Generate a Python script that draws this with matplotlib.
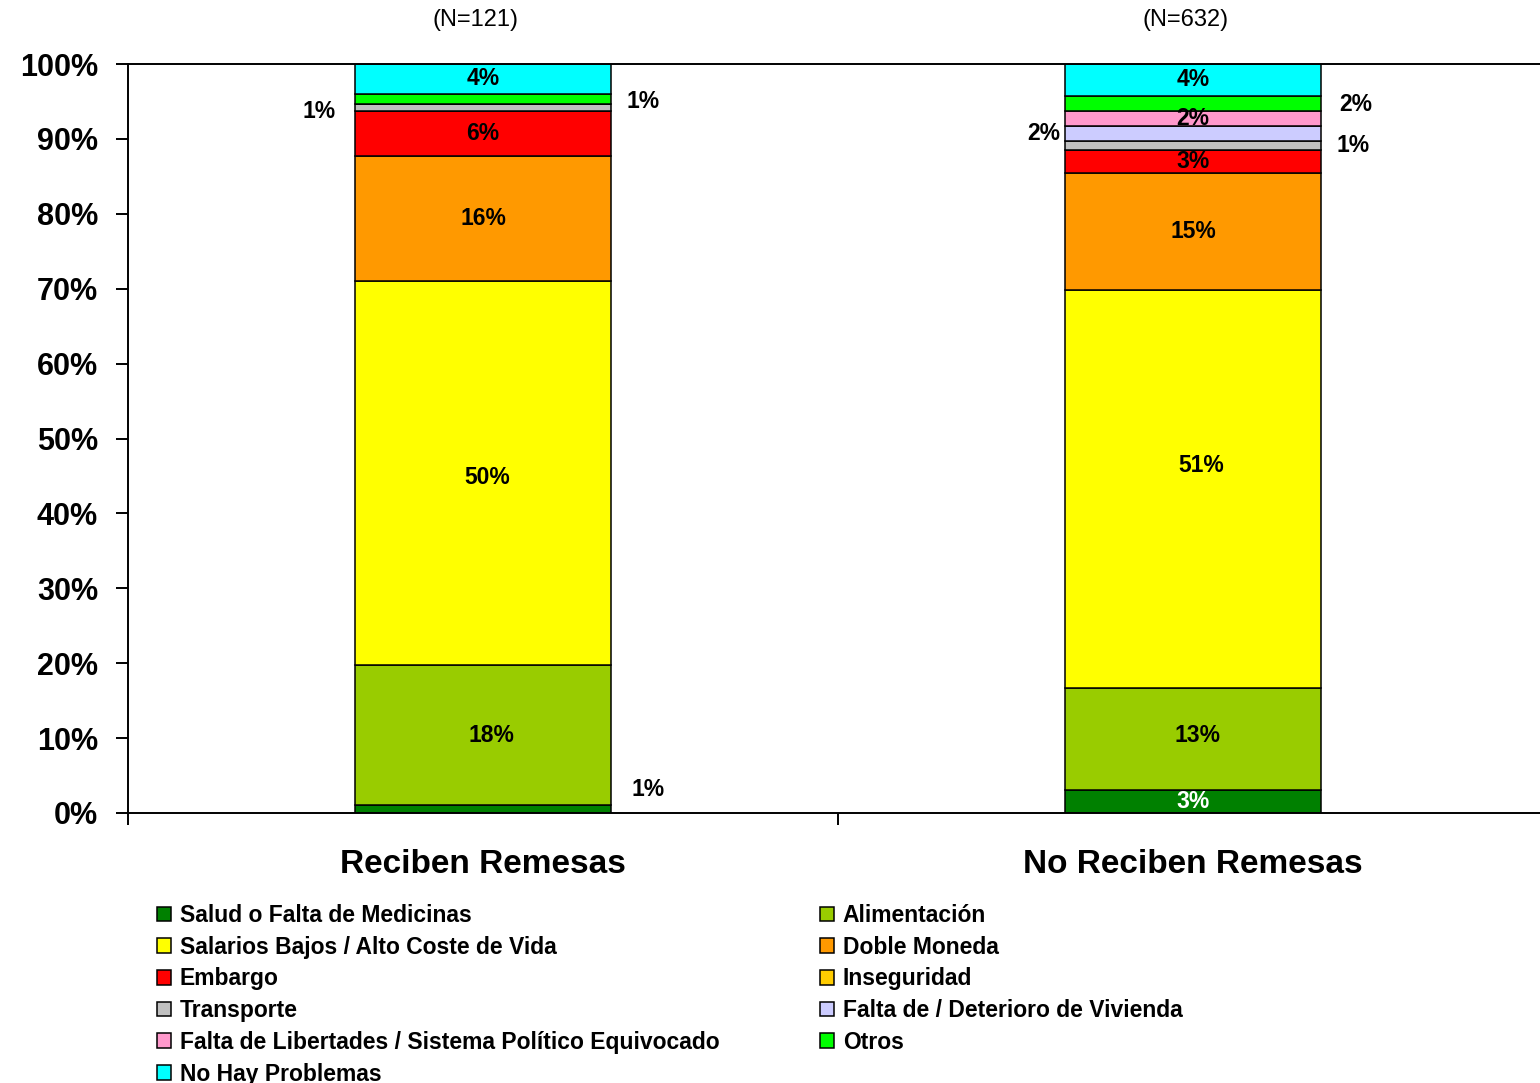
import matplotlib
matplotlib.use('Agg')
import matplotlib.pyplot as plt
import numpy as np
from matplotlib.patches import Patch

plt.rcParams['font.family'] = ['Liberation Sans', 'DejaVu Sans']

# ---------------- data ----------------
groups = ['Reciben Remesas', 'No Reciben Remesas']
sample_sizes = ['(N=121)', '(N=632)']
categories = ['Salud o Falta de Medicinas', 'Alimentación',
              'Salarios Bajos / Alto Coste de Vida', 'Doble Moneda', 'Embargo',
              'Inseguridad', 'Transporte', 'Falta de / Deterioro de Vivienda',
              'Falta de Libertades / Sistema Político Equivocado', 'Otros',
              'No Hay Problemas']
reciben = [1.04, 18.2, 50.0, 16.3, 5.85, 0.0, 0.91, 0.0, 0.0, 1.30, 3.9]
no_reciben = [2.95, 13.06, 51.0, 15.03, 2.88, 0.0, 1.19, 1.96, 1.92, 1.92, 4.06]
colors = ['#008000', '#99CC00', '#FFFF00', '#FF9900', '#FF0000', '#FFCC00',
          '#C0C0C0', '#CCCCFF', '#FF99CC', '#00FF00', '#00FFFF']
y_ticks = [0, 10, 20, 30, 40, 50, 60, 70, 80, 90, 100]
y_tick_labels = [f'{t}%' for t in y_ticks]

# label placement (layout only): (group, category) -> (side, dx_px, dy_px)
outside = {(0, 6): ('left', -36, -4), (0, 9): ('right', 32, -3),
           (0, 0): ('right', 37, 20), (1, 7): ('left', -21, 0),
           (1, 9): ('right', 35, -1), (1, 6): ('right', 32, 0)}
inside_shift = {(1, 2): (8, 24), (1, 1): (5, 4), (0, 2): (4, -4), (0, 1): (8, 0)}
white_labels = {(1, 0)}

# ---------------- figure ----------------
fig = plt.figure(figsize=(15.4, 10.83), dpi=100)
ax = fig.add_axes([128 / 1540, 1 - 813 / 1083, 1420 / 1540, 749 / 1083])

raw = np.array([reciben, no_reciben])
shares = raw / raw.sum(axis=1, keepdims=True) * 100
x = np.arange(len(groups))
width = 0.36
px2pt = 0.72
lab_size = 16.5

bottom = np.zeros(len(groups))
for ci, cat in enumerate(categories):
    vals = shares[:, ci]
    ax.bar(x, vals, width, bottom=bottom, color=colors[ci], edgecolor='black',
           linewidth=1.1, label=cat, zorder=2)
    for gi in range(len(groups)):
        if raw[gi, ci] <= 0:
            continue
        label = f'{round(raw[gi, ci]):.0f}%'
        yc = bottom[gi] + vals[gi] / 2
        if (gi, ci) in outside:
            side, dx, dy = outside[(gi, ci)]
            xe = x[gi] - width / 2 if side == 'left' else x[gi] + width / 2
            ax.annotate(label, (xe, yc), xytext=(dx * px2pt, dy * px2pt),
                        textcoords='offset points', ha='center', va='center',
                        fontsize=lab_size, fontweight='bold', color='black', zorder=4)
        else:
            dx, dy = inside_shift.get((gi, ci), (0, 0))
            col = 'white' if (gi, ci) in white_labels else 'black'
            ax.annotate(label, (x[gi], yc), xytext=(dx * px2pt, dy * px2pt),
                        textcoords='offset points', ha='center', va='center',
                        fontsize=lab_size, fontweight='bold', color=col, zorder=4)
    bottom += vals

ax.set_xlim(-0.5, 1.5)
ax.set_ylim(0, 100)
ax.set_yticks(y_ticks)
ax.set_yticklabels(y_tick_labels, fontsize=22, fontweight='bold')
ax.tick_params(axis='y', direction='out', length=8.6, width=1.4, pad=13)

ax.set_xticks([-0.5, 0.5, 1.5])
ax.set_xticklabels([])
ax.tick_params(axis='x', which='major', direction='out', length=8.6, width=1.4)
ax.set_xticks(x, groups, minor=True)
ax.tick_params(axis='x', which='minor', length=0, pad=26, labelsize=24)
for t in ax.get_xticklabels(minor=True):
    t.set_fontweight('bold')

for s in ax.spines.values():
    s.set_linewidth(1.4)

for gi, n in enumerate(sample_sizes):
    ax.text(x[gi] - 0.01, 1.059, n, transform=ax.get_xaxis_transform(),
            ha='center', va='center', fontsize=17)

# legend: row-major in two columns
handles = [Patch(facecolor=c, edgecolor='black', linewidth=1.1) for c in colors]
col1 = [0, 2, 4, 6, 8, 10]
col2 = [1, 3, 5, 7, 9]
common = dict(frameon=False, handlelength=0.62, handleheight=0.62, handletextpad=0.38,
              labelspacing=0.38, prop={'weight': 'bold', 'size': 16.5}, borderaxespad=0,
              borderpad=0)
fig.legend([handles[i] for i in col1], [categories[i] for i in col1],
           loc='upper left', bbox_to_anchor=(157 / 1540, 1 - 904 / 1083), **common)
fig.legend([handles[i] for i in col2], [categories[i] for i in col2],
           loc='upper left', bbox_to_anchor=(820 / 1540, 1 - 904 / 1083), **common)

fig.savefig('out.png', dpi=100)
